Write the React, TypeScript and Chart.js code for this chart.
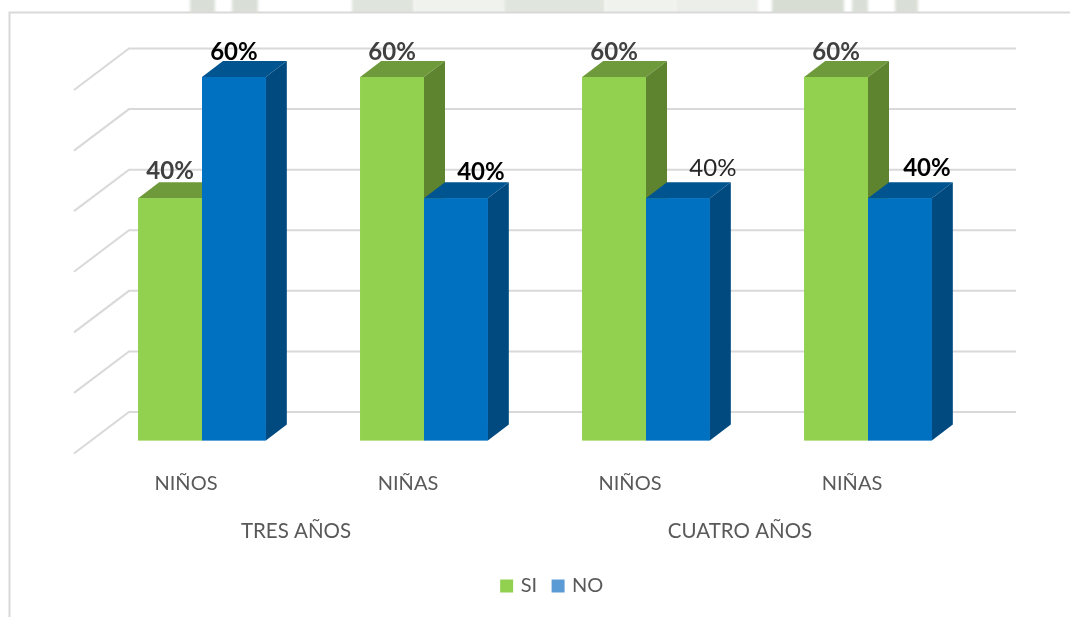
import React, { useEffect, useRef } from "react";
import { Chart, registerables } from "chart.js";

Chart.register(...registerables);

const groups = ["TRES AÑOS", "CUATRO AÑOS"];
const categories = ["NIÑOS", "NIÑAS", "NIÑOS", "NIÑAS"];
const siValues = [40, 60, 60, 60];
const noValues = [60, 40, 40, 40];
const gridValues = [0, 10, 20, 30, 40, 50, 60];

const FONT = "Lato, Carlito, sans-serif";
const SI = "#92d050";
const NO = "#0070c0";
const SIDE: Record<string, [string, string]> = {
  [SI]: ["#6f9a3c", "#5e8430"],
  [NO]: ["#00548f", "#004a80"],
};
const DEPTH = { dx: 21, dy: 16 };
const WALL = { dy: 28.5, left: 129, right: 1016, dx: 55, drop: 41.5 };

// the faint page watermark that shows above the chart frame: [x0, x1, colour]
const watermarkBands: [number, number, string][] = [
  [190, 215, "#d9dfd6"],
  [232, 258, "#d9dfd6"],
  [352, 414, "#dfe4dc"],
  [414, 504, "#f0f2ee"],
  [504, 605, "#e0e5dd"],
  [605, 675, "#f0f2ee"],
  [675, 758, "#eceee9"],
  [772, 844, "#d7ddd3"],
  [852, 868, "#d9dfd6"],
  [895, 918, "#d9dfd6"],
];

// per dataset, per bar: label look (colour, weight) and nudge from bar-top centre
const labelLooks = [
  [
    { c: "#404040", w: "bold", dx: 0, dy: -27 },
    { c: "#404040", w: "bold", dx: 0, dy: -25 },
    { c: "#404040", w: "bold", dx: 0, dy: -25 },
    { c: "#404040", w: "bold", dx: 0, dy: -25 },
  ],
  [
    { c: "#000000", w: "bold", dx: 0, dy: -25 },
    { c: "#000000", w: "bold", dx: 25, dy: -26 },
    { c: "#262626", w: "normal", dx: 35, dy: -30 },
    { c: "#000000", w: "bold", dx: 27, dy: -30 },
  ],
];

const frame3d = {
  id: "frame3d",
  beforeDraw(chart: any) {
    const { ctx } = chart;
    ctx.save();
    ctx.fillStyle = "#ffffff";
    ctx.fillRect(0, 0, 1070, 617);
    ctx.save();
    ctx.beginPath();
    ctx.rect(0, 0, 1070, 12);
    ctx.clip();
    ctx.filter = "blur(1.5px)";
    watermarkBands.forEach(([x0, x1, c]) => {
      ctx.fillStyle = c;
      ctx.fillRect(x0, -6, x1 - x0, 24);
    });
    ctx.restore();
    ctx.strokeStyle = "#d9d9d9";
    ctx.lineWidth = 2;
    ctx.beginPath();
    ctx.moveTo(1070, 12.5);
    ctx.lineTo(9.5, 12.5);
    ctx.lineTo(9.5, 617);
    ctx.stroke();
    ctx.restore();
  },
  beforeDatasetsDraw(chart: any) {
    const { ctx } = chart;
    const y = chart.scales.y;
    ctx.save();
    ctx.strokeStyle = "#d9d9d9";
    ctx.lineWidth = 2;
    gridValues.forEach((v) => {
      const py = y.getPixelForValue(v) - WALL.dy;
      ctx.beginPath();
      ctx.moveTo(WALL.left - WALL.dx, py + WALL.drop);
      ctx.lineTo(WALL.left, py);
      ctx.lineTo(WALL.right, py);
      ctx.stroke();
    });
    ctx.restore();
  },
  afterDatasetsDraw(chart: any) {
    const { ctx } = chart;
    ctx.save();
    const n = categories.length;
    for (let i = 0; i < n; i++) {
      const m0 = chart.getDatasetMeta(0).data[i];
      const m1 = chart.getDatasetMeta(1).data[i];
      [m0, m1].forEach((bar: any, d: number) => {
        const col = d === 0 ? SI : NO;
        const [top, side] = SIDE[col];
        const l = bar.x - bar.width / 2;
        const r = bar.x + bar.width / 2;
        const t = bar.y;
        const b = bar.base;
        ctx.fillStyle = top;
        ctx.beginPath();
        ctx.moveTo(l, t);
        ctx.lineTo(l + DEPTH.dx, t - DEPTH.dy);
        ctx.lineTo(r + DEPTH.dx, t - DEPTH.dy);
        ctx.lineTo(r, t);
        ctx.closePath();
        ctx.fill();
        ctx.fillStyle = side;
        ctx.beginPath();
        ctx.moveTo(r, t);
        ctx.lineTo(r + DEPTH.dx, t - DEPTH.dy);
        ctx.lineTo(r + DEPTH.dx, b - DEPTH.dy);
        ctx.lineTo(r, b);
        ctx.closePath();
        ctx.fill();
      });
      [m1, m0].forEach((bar: any) => {
        bar.draw(ctx);
      });
    }
    ctx.textAlign = "center";
    ctx.textBaseline = "middle";
    [siValues, noValues].forEach((vals, d) => {
      vals.forEach((v, i) => {
        const bar = chart.getDatasetMeta(d).data[i];
        const look = labelLooks[d][i];
        ctx.font = `${look.w} 24px ${FONT}`;
        ctx.fillStyle = look.c;
        ctx.fillText(`${v}%`, bar.x + look.dx, bar.y + look.dy);
      });
    });
    ctx.restore();
  },
  afterLayout(chart: any) {
    chart.legend.left += 18;
    chart.legend.right += 18;
  },
};

export default function App() {
  const ref = useRef<HTMLCanvasElement>(null);
  useEffect(() => {
    const chart = new Chart(ref.current!, {
      type: "bar",
      data: {
        labels: categories,
        datasets: [
          { label: "SI", data: siValues, backgroundColor: SI, xAxisID: "x", categoryPercentage: 0.575, barPercentage: 1 },
          { label: "NO", data: noValues, backgroundColor: NO, xAxisID: "x", categoryPercentage: 0.575, barPercentage: 1 },
        ],
      },
      plugins: [frame3d],
      options: {
        animation: false,
        responsive: false,
        layout: { padding: { left: 91, right: 91, top: 77, bottom: 11 } },
        plugins: {
          tooltip: { enabled: false },
          legend: {
            position: "bottom",
            labels: {
              usePointStyle: true,
              boxWidth: 8,
              boxHeight: 13,
              padding: 17,
              color: "#595959",
              font: { family: FONT, size: 20 },
              generateLabels: () => [
                { text: "SI", fillStyle: SI, strokeStyle: SI, lineWidth: 0, pointStyle: "rect", datasetIndex: 0, fontColor: "#595959" },
                { text: "NO", fillStyle: "#5b9bd5", strokeStyle: "#5b9bd5", lineWidth: 0, pointStyle: "rect", datasetIndex: 1, fontColor: "#595959" },
              ],
            },
          },
        },
        scales: {
          y: {
            min: 0,
            max: 60,
            display: false,
            ticks: { stepSize: 10 },
          },
          x: {
            position: "bottom",
            grid: { display: false },
            border: { display: false },
            afterFit: (s: any) => { s.height = 56; },
            ticks: {
              color: "#595959",
              font: { family: FONT, size: 20 },
              labelOffset: -16,
              padding: 23,
              maxRotation: 0,
              autoSkip: false,
            },
          },
          x2: {
            type: "category",
            labels: groups,
            position: "bottom",
            grid: { display: false },
            border: { display: false },
            afterFit: (s: any) => { s.height = 62.5; },
            ticks: {
              color: "#595959",
              font: { family: FONT, size: 20.5 },
              labelOffset: -17,
              padding: 15,
              maxRotation: 0,
            },
          },
        },
      },
    } as any);
    return () => chart.destroy();
  }, []);
  return (
    <canvas
      ref={ref}
      width={1070}
      height={617}
      style={{ position: "absolute", left: 0, top: 0, width: 1070, height: 617 }}
    />
  );
}
